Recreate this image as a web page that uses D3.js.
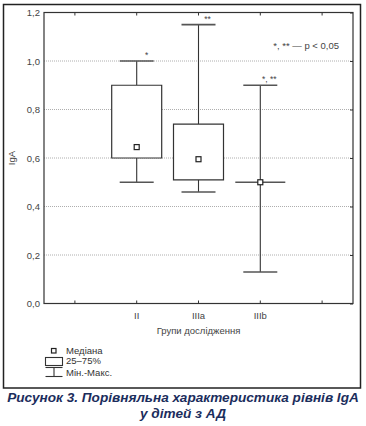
<!DOCTYPE html>
<html>
<head>
<meta charset="utf-8">
<script src="https://cdn.jsdelivr.net/npm/d3@7"></script>
<style>
  body { margin: 0; background: #fff; }
  svg text { font-family: "Liberation Sans", Arial, sans-serif; }
</style>
</head>
<body>
<div id="chart"></div>
<script>
const slots = [0, 1, 2, 3, 4];
const slotLabels = ['', 'II', 'IIIa', 'IIIb', ''];
const groupSlots = [1, 2, 3];
const mins = [0.5, 0.46, 0.13];
const q1s = [0.6, 0.51, 0.5];
const medians = [0.645, 0.595, 0.5];
const q3s = [0.9, 0.74, 0.5];
const maxs = [1.0, 1.15, 0.9];
const marks = ['*', '**', '*, **'];
const yTicks = [0, 0.2, 0.4, 0.6, 0.8, 1.0, 1.2];

const width = 366;
const height = 426;
const margins = { top: 12.5, left: 44, right: 13, bottom: 122.5 };

const svg = d3.select('#chart').append('svg')
  .attr('width', width)
  .attr('height', height);

// outer frame
svg.append('rect')
  .attr('x', 3.5).attr('y', 4.5)
  .attr('width', 357).attr('height', 383.5)
  .style('fill', 'none')
  .style('stroke', '#222')
  .style('stroke-width', 1.5);

const x = d3.scaleBand()
  .domain(slots)
  .range([margins.left, width - margins.right]);

const y = d3.scaleLinear()
  .domain([0, 1.2])
  .range([height - margins.bottom, margins.top]);

const fmt = d => d3.format('.1f')(d).replace('.', ',');

// gridlines
svg.append('g')
  .selectAll('line')
  .data(yTicks.filter(d => d > 0 && d < 1.2))
  .join('line')
  .attr('x1', margins.left).attr('x2', width - margins.right)
  .attr('y1', d => y(d)).attr('y2', d => y(d))
  .style('stroke', '#999')
  .style('stroke-width', 0.8)
  .style('stroke-dasharray', '1,1');

// plot frame
svg.append('rect')
  .attr('x', margins.left).attr('y', margins.top)
  .attr('width', width - margins.left - margins.right)
  .attr('height', height - margins.top - margins.bottom)
  .style('fill', 'none')
  .style('stroke', '#333')
  .style('stroke-width', 1.2);

// y axis
const yAxis = svg.append('g')
  .attr('transform', `translate(${margins.left},0)`)
  .call(d3.axisLeft(y).tickValues(yTicks).tickFormat(fmt).tickSize(0).tickPadding(4));
yAxis.select('.domain').remove();
yAxis.selectAll('text').style('font-size', '9.5px').style('fill', '#444');

// right inner ticks
svg.append('g')
  .attr('transform', `translate(${width - margins.right},0)`)
  .call(d3.axisLeft(y).tickValues(yTicks).tickFormat('').tickSize(3))
  .call(g => g.select('.domain').remove())
  .selectAll('line').style('stroke', '#333');

// bottom axis
const xAxis = svg.append('g')
  .attr('transform', `translate(0,${height - margins.bottom})`)
  .call(d3.axisBottom(x).tickFormat(i => slotLabels[i]).tickSizeInner(-3).tickSizeOuter(0).tickPadding(9));
xAxis.select('.domain').remove();
xAxis.selectAll('line').style('stroke', '#333');
xAxis.selectAll('text').style('font-size', '9.5px').style('fill', '#444');

// top inner ticks
svg.append('g')
  .attr('transform', `translate(0,${margins.top})`)
  .call(d3.axisTop(x).tickFormat('').tickSizeInner(-3).tickSizeOuter(0))
  .call(g => g.select('.domain').remove())
  .selectAll('line').style('stroke', '#333');

// axis titles
svg.append('text')
  .attr('transform', `translate(15,${y(0.6)}) rotate(-90)`)
  .attr('text-anchor', 'middle')
  .style('font-size', '9.5px')
  .style('fill', '#444')
  .text('IgA');

svg.append('text')
  .attr('x', (margins.left + width - margins.right) / 2)
  .attr('y', 334)
  .attr('text-anchor', 'middle')
  .style('font-size', '9.5px')
  .style('fill', '#444')
  .text('Групи дослідження');

// boxes
const boxes = svg.append('g');
const boxHalf = 25;
const capHalf = 17;

groupSlots.forEach((s, i) => {
  const cx = x(s) + x.bandwidth() / 2;

  // whisker stems
  boxes.append('line')
    .attr('x1', cx).attr('x2', cx)
    .attr('y1', y(maxs[i])).attr('y2', y(q3s[i]))
    .style('stroke', '#333').style('stroke-width', 1.1);
  boxes.append('line')
    .attr('x1', cx).attr('x2', cx)
    .attr('y1', y(q1s[i])).attr('y2', y(mins[i]))
    .style('stroke', '#333').style('stroke-width', 1.1);

  // caps
  [mins[i], maxs[i]].forEach(v => {
    boxes.append('line')
      .attr('x1', cx - capHalf).attr('x2', cx + capHalf)
      .attr('y1', y(v)).attr('y2', y(v))
      .style('stroke', '#555').style('stroke-width', 1.6);
  });

  // box
  const path = d3.path();
  path.moveTo(cx - boxHalf, y(q3s[i]));
  path.lineTo(cx + boxHalf, y(q3s[i]));
  path.lineTo(cx + boxHalf, y(q1s[i]));
  path.lineTo(cx - boxHalf, y(q1s[i]));
  path.closePath();
  boxes.append('path')
    .attr('d', path.toString())
    .style('fill', '#fff')
    .style('stroke', q1s[i] === q3s[i] ? '#555' : '#333')
    .style('stroke-width', q1s[i] === q3s[i] ? 1.6 : 1.2);

  // median
  boxes.append('rect')
    .attr('x', cx - 2.5).attr('y', y(medians[i]) - 2.5)
    .attr('width', 5).attr('height', 5)
    .style('fill', '#fff')
    .style('stroke', '#222')
    .style('stroke-width', 1.2);

  // significance marks
  boxes.append('text')
    .attr('x', cx + (i === 0 ? 10 : 9))
    .attr('y', y(maxs[i]) - 3)
    .attr('text-anchor', 'middle')
    .style('font-size', '8.5px')
    .style('fill', '#444')
    .text(marks[i]);
});

svg.append('text')
  .attr('x', 339)
  .attr('y', 49)
  .attr('text-anchor', 'end')
  .style('font-size', '9.5px')
  .style('fill', '#444')
  .text('*, ** — p < 0,05');

// legend
const legend = svg.append('g');
legend.append('rect')
  .attr('x', 51.5).attr('y', 348.5).attr('width', 4.5).attr('height', 4.5)
  .style('fill', '#fff').style('stroke', '#222').style('stroke-width', 1.2);
legend.append('rect')
  .attr('x', 45.5).attr('y', 357.5).attr('width', 17).attr('height', 8)
  .style('fill', '#fff').style('stroke', '#333').style('stroke-width', 1.1);
legend.append('line')
  .attr('x1', 45.5).attr('x2', 62.5).attr('y1', 367.5).attr('y2', 367.5)
  .style('stroke', '#333').style('stroke-width', 1.1);
legend.append('line')
  .attr('x1', 54).attr('x2', 54).attr('y1', 367.5).attr('y2', 376.5)
  .style('stroke', '#333').style('stroke-width', 1.1);
legend.append('line')
  .attr('x1', 45.5).attr('x2', 62.5).attr('y1', 376.5).attr('y2', 376.5)
  .style('stroke', '#333').style('stroke-width', 1.1);

const legendItems = [['Медіана', 354], ['25–75%', 364], ['Мін.-Макс.', 376]];
legend.selectAll('text')
  .data(legendItems)
  .join('text')
  .attr('x', 66)
  .attr('y', d => d[1])
  .style('font-size', '9.5px')
  .style('fill', '#333')
  .text(d => d[0]);

// caption
const caption = svg.append('g')
  .style('font-size', '13.6px')
  .style('font-weight', 'bold')
  .style('font-style', 'italic')
  .style('fill', '#1b2d5c');
caption.append('text')
  .attr('x', 183).attr('y', 402)
  .attr('text-anchor', 'middle')
  .text('Рисунок 3. Порівняльна характеристика рівнів IgA');
caption.append('text')
  .attr('x', 183).attr('y', 418)
  .attr('text-anchor', 'middle')
  .text('у дітей з АД');
</script>
</body>
</html>
